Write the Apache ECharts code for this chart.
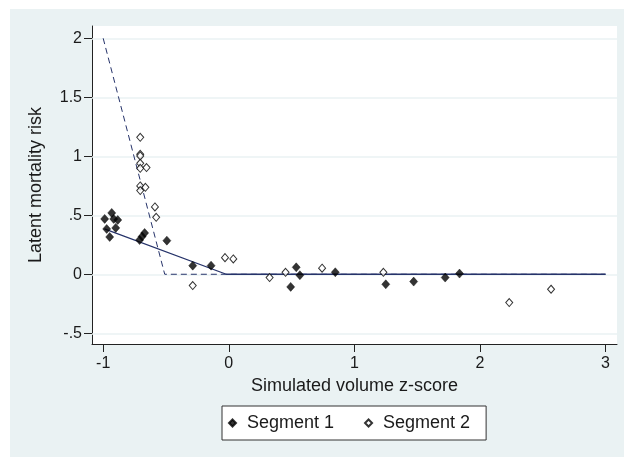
<!DOCTYPE html>
<html>
<head>
<meta charset="utf-8">
<script src="https://cdn.jsdelivr.net/npm/echarts@6/dist/echarts.min.js"></script>
<style>
html,body{margin:0;padding:0;background:#fff;}
#chart{width:624px;height:457px;}
</style>
</head>
<body>
<div id="chart"></div>
<script>
// ---- data ----
const seg1X = [-0.988, -0.932, -0.972, -0.948, -0.916, -0.884, -0.900, -0.710, -0.690, -0.670, -0.493, -0.287, -0.141, 0.537, 0.493, 0.566, 0.848, 1.250, 1.472, 1.723, 1.837];
const seg1Y = [0.469, 0.520, 0.384, 0.316, 0.469, 0.460, 0.393, 0.290, 0.320, 0.350, 0.285, 0.073, 0.073, 0.059, -0.107, -0.008, 0.017, -0.085, -0.062, -0.028, 0.006];
const seg2X = [-0.705, -0.705, -0.705, -0.705, -0.705, -0.655, -0.705, -0.705, -0.664, -0.588, -0.578, -0.030, 0.036, -0.287, 0.325, 0.452, 0.743, 1.231, 2.233, 2.566];
const seg2Y = [1.161, 1.017, 1.003, 0.940, 0.898, 0.904, 0.749, 0.709, 0.737, 0.571, 0.483, 0.141, 0.130, -0.096, -0.028, 0.017, 0.051, 0.017, -0.240, -0.127];
const fit1X = [-0.99, -0.02, 3.0];
const fit1Y = [0.385, 0.0, 0.0];
const fit2X = [-1.0, -0.51, 3.0];
const fit2Y = [2.0, 0.0, 0.0];
const xTicks = [-1, 0, 1, 2, 3];
const yTicks = [-0.5, 0, 0.5, 1, 1.5, 2];
const seriesNames = ['Segment 1', 'Segment 2'];
const xTitle = 'Simulated volume z-score';
const yTitle = 'Latent mortality risk';

const zip = (a, b) => a.map((v, i) => [v, b[i]]);
const fmtY = v => {
  if (v === 0) return '0';
  let s = String(v);
  s = s.replace(/^0\./, '.').replace(/^-0\./, '-.');
  return s;
};

const FONT = "'Liberation Sans', Arial, sans-serif";
const TXT = '#1a1a1a';
const BG = '#eaf2f3';
const LINE = '#26336a';

const chart = echarts.init(document.getElementById('chart'), null, {renderer: 'canvas'});
chart.setOption({
  animation: false,
  backgroundColor: '#fff',
  textStyle: {fontFamily: FONT},
  graphic: [{
    type: 'rect', z: -10, silent: true,
    shape: {x: 10, y: 9, width: 614, height: 448},
    style: {fill: BG}
  }],
  grid: {
    left: 92, right: 7, top: 26, bottom: 113,
    show: true, backgroundColor: '#fff', borderWidth: 0
  },
  legend: {
    data: seriesNames,
    left: 222, top: 406,
    padding: [8, 16, 8, 6],
    itemGap: 30,
    itemWidth: 7, itemHeight: 7,
    backgroundColor: '#fff',
    borderColor: '#333', borderWidth: 1,
    textStyle: {fontSize: 18, color: TXT, fontFamily: FONT, padding: [0, 0, 0, 6]}
  },
  xAxis: {
    type: 'value',
    min: -1.089, max: 3.091,
    name: xTitle, nameLocation: 'middle', nameGap: 33,
    nameTextStyle: {fontSize: 18, color: TXT, fontFamily: FONT},
    axisLine: {show: true, onZero: false, lineStyle: {color: '#222', width: 1}},
    axisTick: {show: true, length: 8, customValues: xTicks, lineStyle: {color: '#222'}},
    axisLabel: {customValues: xTicks, fontSize: 16, color: TXT, fontFamily: FONT, margin: 12,
      formatter: v => String(v)},
    splitLine: {show: false}
  },
  yAxis: {
    type: 'value',
    min: -0.591, max: 2.104,
    name: yTitle, nameLocation: 'middle', nameGap: 47, nameRotate: 90,
    nameTextStyle: {fontSize: 18, color: TXT, fontFamily: FONT},
    axisLine: {show: true, onZero: false, lineStyle: {color: '#222', width: 1}},
    axisTick: {show: true, length: 8, customValues: yTicks, lineStyle: {color: '#222'}},
    axisLabel: {customValues: yTicks, fontSize: 16, color: TXT, fontFamily: FONT, margin: 10,
      formatter: v => fmtY(v)},
    splitLine: {show: false}
  },
  series: [
    {
      name: 'grid', type: 'line', data: [], silent: true, z: 1,
      markLine: {
        silent: true, symbol: 'none', label: {show: false}, z: 1,
        lineStyle: {color: BG, type: 'solid', width: 1.5},
        data: yTicks.map(v => ({yAxis: v}))
      }
    },
    {
      name: 'fit2', type: 'line', data: zip(fit2X, fit2Y), symbol: 'none', silent: true, z: 6,
      lineStyle: {color: LINE, width: 1, type: [6, 4]}
    },
    {
      name: 'fit1', type: 'line', data: zip(fit1X, fit1Y), symbol: 'none', silent: true, z: 7,
      lineStyle: {color: LINE, width: 1.3, type: 'solid'}
    },
    {
      name: seriesNames[0], type: 'scatter', data: zip(seg1X, seg1Y), z: 8,
      symbol: 'diamond', symbolSize: [8, 9],
      itemStyle: {color: '#000', borderColor: '#000', borderWidth: 0.5}
    },
    {
      name: seriesNames[1], type: 'scatter', data: zip(seg2X, seg2Y), z: 8,
      symbol: 'diamond', symbolSize: [7, 8],
      itemStyle: {color: '#fff', borderColor: '#000', borderWidth: 1}
    }
  ]
});
</script>
</body>
</html>
